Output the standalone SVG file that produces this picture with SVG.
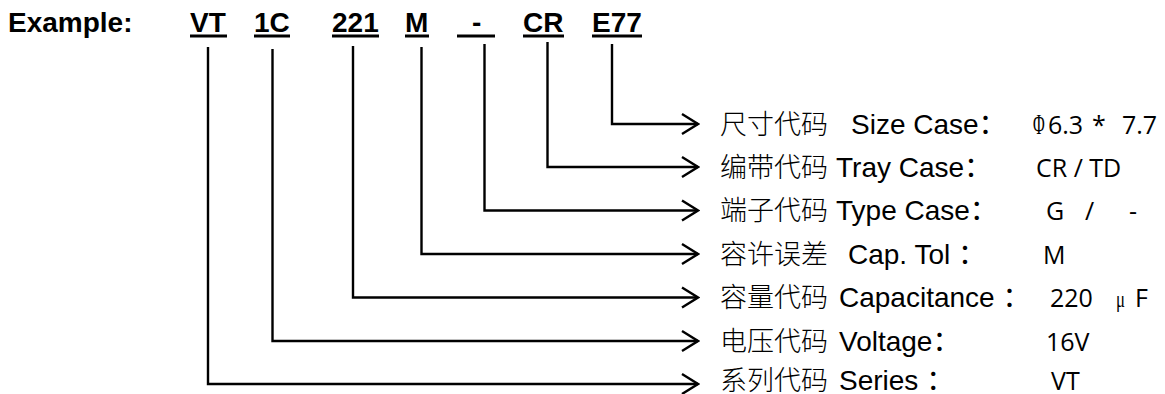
<svg xmlns="http://www.w3.org/2000/svg" width="1165" height="394" viewBox="0 0 1165 394">
<defs>
<style>
.hd{font-family:"Liberation Sans",Arial,sans-serif;font-weight:bold;font-size:28px;fill:#000}
.ul{fill:#000}
.lb{font-family:"Liberation Sans",Arial,"Noto Sans CJK SC",sans-serif;font-size:28px;fill:#000}
.cn{font-family:"Noto Sans CJK SC",sans-serif;font-weight:300;font-size:27px;fill:#000}
.vl{font-family:"Open Sans","Liberation Sans",sans-serif;font-size:25px;fill:#000}
.sf{font-family:"Liberation Serif","DejaVu Serif",serif;font-size:29px;fill:#000}
.cl{fill:none;stroke:#000;stroke-width:2.4}
</style>
<marker id="arr" viewBox="0 0 20 24" refX="18" refY="12" markerWidth="20" markerHeight="24" markerUnits="userSpaceOnUse" orient="auto">
<path d="M2,2 L18,12 L2,22" fill="none" stroke="#000" stroke-width="2.4"/>
</marker>
</defs>
<rect width="1165" height="394" fill="#fff"/>

<g id="title"><text class="hd" x="8" y="31.5">Example:</text></g>

<g id="code-VT"><text class="hd" x="190" y="31.5">VT</text><rect class="ul" x="190" y="34.5" width="37" height="3"/></g>
<g id="code-1C"><text class="hd" x="254" y="31.5">1C</text><rect class="ul" x="254" y="34.5" width="36" height="3"/></g>
<g id="code-221"><text class="hd" x="332" y="31.5">221</text><rect class="ul" x="332" y="34.5" width="47" height="3"/></g>
<g id="code-M"><text class="hd" x="405" y="31.5">M</text><rect class="ul" x="405" y="34.5" width="24" height="3"/></g>
<g id="code-dash"><text class="hd" x="472" y="31.5">-</text><rect class="ul" x="457" y="34.5" width="38" height="3"/></g>
<g id="code-CR"><text class="hd" x="523" y="31.5">CR</text><rect class="ul" x="523" y="34.5" width="41" height="3"/></g>
<g id="code-E77"><text class="hd" x="592" y="31.5">E77</text><rect class="ul" x="592" y="34.5" width="50" height="3"/></g>

<g id="connectors">
<path class="cl" d="M612,44 V124 H698" marker-end="url(#arr)"/>
<path class="cl" d="M547.5,42 V167 H698" marker-end="url(#arr)"/>
<path class="cl" d="M484.5,44 V210.5 H698" marker-end="url(#arr)"/>
<path class="cl" d="M421.5,47 V254 H698" marker-end="url(#arr)"/>
<path class="cl" d="M353,46 V297.5 H698" marker-end="url(#arr)"/>
<path class="cl" d="M272.5,49 V341 H698" marker-end="url(#arr)"/>
<path class="cl" d="M208,47 V384 H698" marker-end="url(#arr)"/>
</g>

<g id="size-case">
<text class="cn" x="720" y="133.5">尺寸代码</text>
<text class="lb" x="851" y="133.5">Size Case：</text>
<text class="sf" transform="translate(1033,133.5) scale(0.55,1)">Φ</text>
<text class="vl" x="1048" y="133.5">6.3</text>
<text class="vl" x="1092" y="133.5">*</text>
<text class="vl" x="1122" y="133.5">7.7</text>
</g>
<g id="tray-case">
<text class="cn" x="720" y="176.5">编带代码</text>
<text class="lb" x="836" y="176.5">Tray Case：</text>
<text class="vl" x="1036" y="176.5">CR / TD</text>
</g>
<g id="type-case">
<text class="cn" x="720" y="220">端子代码</text>
<text class="lb" x="836" y="220">Type Case：</text>
<text class="vl" x="1046" y="220">G</text>
<text class="vl" x="1085" y="220">/</text>
<text class="vl" x="1129" y="220">-</text>
</g>
<g id="cap-tol">
<text class="cn" x="720" y="263.5">容许误差</text>
<text class="lb" x="848" y="263.5">Cap. Tol ：</text>
<text class="vl" x="1043" y="263.5">M</text>
</g>
<g id="capacitance">
<text class="cn" x="720" y="307">容量代码</text>
<text class="lb" x="839" y="307">Capacitance ：</text>
<text class="vl" x="1050" y="307">220</text>
<text class="sf" transform="translate(1116,307) scale(0.7,1)" style="font-size:24px">μ</text>
<text class="vl" x="1135" y="307">F</text>
</g>
<g id="voltage">
<text class="cn" x="720" y="350.5">电压代码</text>
<text class="lb" x="839" y="350.5">Voltage：</text>
<text class="vl" x="1046" y="350.5">16V</text>
</g>
<g id="series">
<text class="cn" x="720" y="389.5">系列代码</text>
<text class="lb" x="839" y="389.5">Series ：</text>
<text class="vl" x="1051" y="389.5">VT</text>
</g>
</svg>
